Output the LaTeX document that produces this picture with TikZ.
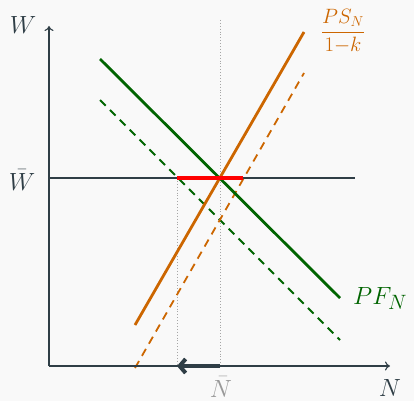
\documentclass[tikz,border=0pt]{standalone}
\usetikzlibrary{arrows.meta}
\definecolor{bg}{HTML}{F9F9F9}
\definecolor{axis}{HTML}{2F3E46}
\definecolor{pfgreen}{HTML}{006400}
\definecolor{psorange}{HTML}{CC6600}
\begin{document}
\begin{tikzpicture}[x=1pt,y=-1pt,
  axisline/.style={axis,line width=1.1pt,-{To[length=5pt,width=9pt]}},
  pfline/.style={pfgreen,line width=2.8pt},
  psline/.style={psorange,line width=2.8pt},
  pfdash/.style={pfgreen,line width=1.8pt,dash pattern=on 8pt off 6pt},
  psdash/.style={psorange,line width=1.8pt,dash pattern=on 8pt off 6pt},
  guide/.style={gray!70,line width=0.9pt,dotted},
  lbl/.style={font=\fontsize{29}{32}\selectfont,inner sep=0pt}]
\fill[bg] (0,0) rectangle (414,401);
\useasboundingbox (0,0) rectangle (414,401);
% coordinates
\coordinate (O) at (49,366);
\coordinate (ytop) at (49,26);
\coordinate (xend) at (390,366);
\coordinate (wl) at (49,178);
\coordinate (wr) at (355,178);
\coordinate (pfa) at (100,59);
\coordinate (pfb) at (340,298);
\coordinate (pfda) at (100,100);
\coordinate (pfdb) at (340,340);
\coordinate (psa) at (135,325);
\coordinate (psb) at (304,32);
\coordinate (psda) at (135,368);
\coordinate (psdb) at (304,73);
\coordinate (ra) at (177,178);
\coordinate (rb) at (243,178);
\coordinate (da) at (177,366);
\coordinate (nb) at (220,366);
\coordinate (nt) at (220,20);
% guides
\draw[guide] (ra) -- (da);
\draw[guide] (nt) -- (nb);
% horizontal wage line
\draw[axis,line width=1.8pt] (wl) -- (wr);
% curves
\draw[pfdash] (pfda) -- (pfdb);
\draw[psdash] (psda) -- (psdb);
\draw[pfline] (pfa) -- (pfb);
\draw[psline] (psa) -- (psb);
\draw[red,line width=3.5pt] (ra) -- (rb);
% axes
\draw[axisline] (O) -- (ytop);
\draw[axisline] (O) -- (xend);
% arrow
\draw[axis,line width=4pt,-{Straight Barb[length=6pt,width=14pt]}] (nb) -- (da);
% labels
\node[lbl,axis,anchor=base] (Wl) at (23,34) {$W$};
\node[lbl,axis,anchor=base] (Wbar) at (22,190) {$\bar W$};
\node[lbl,axis,anchor=base] (Nl) at (390,396) {$N$};
\node[lbl,gray!80,anchor=base] (Nbar) at (221,397) {$\bar N$};
\node[lbl,pfgreen,anchor=base west] (PF) at (353,304) {$PF_N$};
\node[psorange,inner sep=0pt,font=\fontsize{22}{26}\selectfont] (PS) at (343,31) {$\displaystyle\frac{PS_N}{1{-}k}$};
\end{tikzpicture}
\end{document}
